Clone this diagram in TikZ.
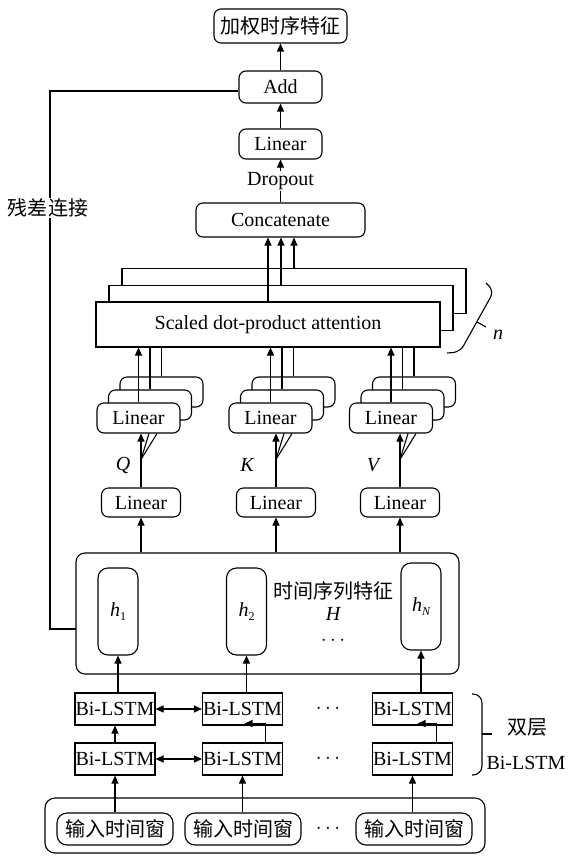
\documentclass[tikz,border=0pt]{standalone}
\usepackage{fontspec}
\setmainfont{Liberation Serif}
\newfontfamily\cjk{Noto Sans CJK SC}
\usetikzlibrary{arrows.meta,calc}
\begin{document}
\begin{tikzpicture}[x=1pt,y=-1pt,line width=1.1pt,
  >={Triangle[length=8pt,width=7pt]},
  font=\fontsize{20}{22}\selectfont,
  rbox/.style={draw,fill=white,rounded corners=7pt,inner sep=0pt},
  sbox/.style={draw,fill=white,inner sep=0pt},
  cn/.style={font=\fontsize{20}{22}\selectfont\cjk},
  lin/.style={rbox,minimum width=83pt,minimum height=30pt},
  lstm/.style={sbox,minimum width=80pt,minimum height=32pt},
  inp/.style={rbox,rounded corners=10pt,minimum width=116pt,minimum height=32pt},
  hb/.style={rbox,rounded corners=10pt,minimum width=40pt,minimum height=87pt},
  att/.style={sbox,minimum width=344pt,minimum height=45pt}
]
\useasboundingbox (0,0) rectangle (571,856);

% top part
\node[rbox,cn,minimum width=133pt,minimum height=34pt] (out) at (280.5,26) {加权时序特征};
\node[rbox,minimum width=83pt,minimum height=32pt] (add) at (280.5,87) {Add};
\node[lin] (lin) at (280.5,144) {Linear};
\node[rbox,minimum width=169pt,minimum height=34pt] (cat) at (280.5,220) {Concatenate};
\draw[->] (add.north) -- (out.south);
\draw[->] (lin.north) -- (add.south);
\draw[->] (cat.north) -- node[fill=white,inner sep=1pt]{Dropout} (lin.south);

% attention stack
\node[att] (att3) at (294,291) {};
\node[att] (att2) at (281,308) {};
\node[att] (att1) at (268,324.5) {Scaled dot-product attention};
\draw[->] (att1.north) -- (att1.north |- cat.south);
\draw[->] (att2.north) -- (att2.north |- cat.south);
\draw[->] (att3.north) -- (att3.north |- cat.south);
\draw[rounded corners=7pt] (486,283) -- (494,291) -- (460,352) -- (447,353);
\draw (477,322) -- (486,327);
\node at (498,335) {\itshape n};

% Q K V linear stacks
\foreach \n/\x/\lx/\lab/\lp in {q/138.5/141/Q/123, k/270.5/276/K/247, v/391/400/V/373}{
  \node[lin] (\n3) at (\x+23,392) {};
  \node[lin] (\n2) at (\x+11.5,405) {};
  \node[lin] (\n1) at (\x,418) {Linear};
  \draw[->] (\n1.north) -- (\n1.north |- att1.south);
  \draw (\n2.north) -- (\n2.north |- att1.south);
  \draw (\n3.north) -- (\n3.north |- att1.south);
  \node[rbox,minimum width=79pt,minimum height=29pt] (\n l) at (\lx,502.5) {Linear};
  \draw[->] (\n l.north) -- (\n l.north |- \n1.south);
  \coordinate (\n f) at ($(\n l.north)+(0,-28)$);
  \draw (\n f) -- ($(\n1.south -| \n f)+(8,0)$);
  \draw (\n f) -- ($(\n1.south -| \n f)+(16,0)$);
  \node at (\lp,465) {\itshape \lab};
}

% H box
\node[rbox,rounded corners=9pt,minimum width=383pt,minimum height=121pt] (H) at (267.5,613.5) {};
\node[hb] (h1) at (118,611.5) {{\itshape h}\raisebox{-4pt}{\fontsize{12}{12}\selectfont 1}};
\node[hb] (h2) at (246.5,611.5) {{\itshape h}\raisebox{-4pt}{\fontsize{12}{12}\selectfont 2}};
\node[hb] (hN) at (421,606.5) {{\itshape h}\raisebox{-4pt}{\fontsize{12}{12}\selectfont\itshape N}};
\node[cn,inner sep=0pt] (ht) at (333,591) {时间序列特征};
\node[inner sep=0pt] (hH) at (333,614) {\itshape H};
\node[inner sep=0pt] (hd) at (333,641) {$\cdots$};
\draw[->] (ql.south |- H.north) -- (ql.south);
\draw[->] (kl.south |- H.north) -- (kl.south);
\draw[->] (vl.south |- H.north) -- (vl.south);

% residual
\coordinate (rs) at (76,629);
\draw (rs) -- (50,629) -- (50,91) -- ($(add.west)+(0,4)$);
\node[cn,fill=white,inner sep=1pt] (res) at (48,208) {残差连接};

% Bi-LSTM
\node[lstm] (b11) at (115,709) {Bi-LSTM};
\node[lstm] (b12) at (242.5,709) {Bi-LSTM};
\node[lstm] (b13) at (412.5,709) {Bi-LSTM};
\node[lstm] (b21) at (115,759) {Bi-LSTM};
\node[lstm] (b22) at (242.5,759) {Bi-LSTM};
\node[lstm] (b23) at (412.5,759) {Bi-LSTM};
\node (d1) at (328,709) {$\cdots$};
\node (d2) at (328,759) {$\cdots$};
\draw[<->] (b11.east) -- (b12.west);
\draw[<->] (b21.east) -- (b22.west);
\draw[->] (b21.north) -- (b11.south);
\draw[->] ($(b22.north east)+(-18,0)$) |- ($(b12.south)+(2,-2)$);
\draw[->] ($(b23.north east)+(-17,0)$) |- ($(b13.south)+(5,-2)$);
\draw[->] (h1.south |- b11.north) -- (h1.south);
\draw[->] (h2.south |- b12.north) -- (h2.south);
\draw[->] (hN.south |- b13.north) -- (hN.south);
\draw[rounded corners=9pt] (472,694) -- (482,694) -- (482,775) -- (472,775);
\draw (482,734) -- (492,734);
\node[cn] (lab1) at (527,727) {双层};
\node (lab2) at (526,763) {Bi-LSTM};

% inputs
\node[rbox,rounded corners=10pt,minimum width=440pt,minimum height=55pt] (IN) at (265,825.5) {};
\node[inp,cn] (i1) at (115,829) {输入时间窗};
\node[inp,cn] (i2) at (243,829) {输入时间窗};
\node[inp,cn] (i3) at (414,829) {输入时间窗};
\node (d3) at (328,829) {$\cdots$};
\draw[->] (b21.south |- i1.north) -- (b21.south);
\draw[->] (b22.south |- i2.north) -- (b22.south);
\draw[->] (b23.south |- i3.north) -- (b23.south);
\end{tikzpicture}
\end{document}
